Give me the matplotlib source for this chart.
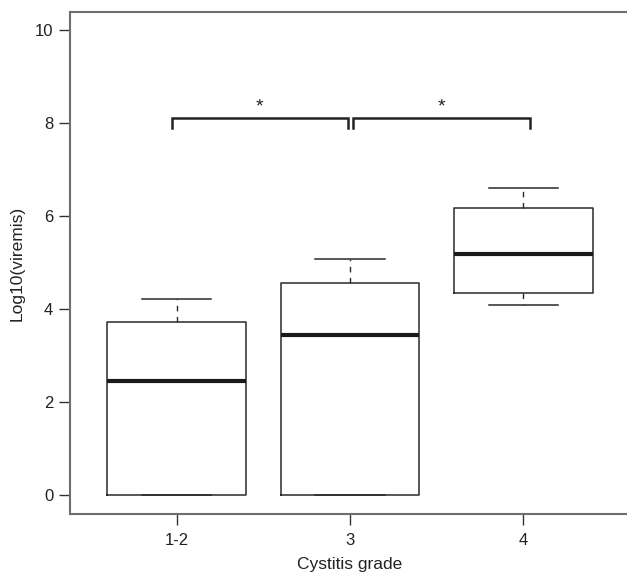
import matplotlib
matplotlib.use("Agg")
import matplotlib.pyplot as plt

plt.rcParams['font.family'] = ['Liberation Sans', 'DejaVu Sans']

categories = ["1-2", "3", "4"]
whisker_low = [0.0, 0.0, 4.08]
q1 = [0.0, 0.0, 4.35]
median = [2.45, 3.45, 5.18]
q3 = [3.72, 4.56, 6.17]
whisker_high = [4.22, 5.08, 6.60]

brackets = [(0.97, 1.99), (2.02, 3.04)]
bracket_y = 8.1
bracket_drop = 0.2
bracket_labels = ["*", "*"]

fig = plt.figure(figsize=(6.27, 5.73), dpi=100)
ax = fig.add_axes([70/627, 59/573, 560/627, 502/573])

stats = []
for i, c in enumerate(categories):
    stats.append(dict(label=c, whislo=whisker_low[i], q1=q1[i], med=median[i],
                      q3=q3[i], whishi=whisker_high[i], fliers=[]))

positions = list(range(1, len(categories) + 1))
edge = '#2a2a2a'
ax.bxp(stats, positions=positions, widths=0.8, showfliers=False,
       boxprops=dict(color=edge, linewidth=1.1),
       whiskerprops=dict(color=edge, linewidth=1.0, linestyle=(0, (4, 4))),
       capprops=dict(color=edge, linewidth=1.1),
       medianprops=dict(color='#1a1a1a', linewidth=3.0),
       capwidths=0.4)

for (x0, x1), lab in zip(brackets, bracket_labels):
    ax.plot([x0, x0, x1, x1], [bracket_y - bracket_drop, bracket_y, bracket_y, bracket_y - bracket_drop],
            color='#222222', linewidth=1.8, solid_joinstyle='miter', clip_on=False)
    ax.text((x0 + x1) / 2, bracket_y + 0.06, lab, ha='center', va='bottom', fontsize=14, color='#222222')

ax.set_xlim(0.384, 3.616)
ax.set_ylim(-0.41, 10.39)
ax.set_yticks([0, 2, 4, 6, 8, 10])
ax.set_xticks(positions)
ax.set_xticklabels(categories)

spine_col = '#6e6e6e'
for s in ax.spines.values():
    s.set_color(spine_col)
    s.set_linewidth(1.5)
ax.tick_params(axis='both', colors='#333333', labelcolor='#222222', length=8, width=1.0, labelsize=12, pad=4)
ax.tick_params(axis='x', pad=6)

ax.set_xlabel("Cystitis grade", fontsize=12.5, color='#222222', labelpad=6)
ax.set_ylabel("Log10(viremis)", fontsize=12.5, color='#222222', labelpad=7)

fig.savefig("out.png", dpi=100, facecolor='white')
